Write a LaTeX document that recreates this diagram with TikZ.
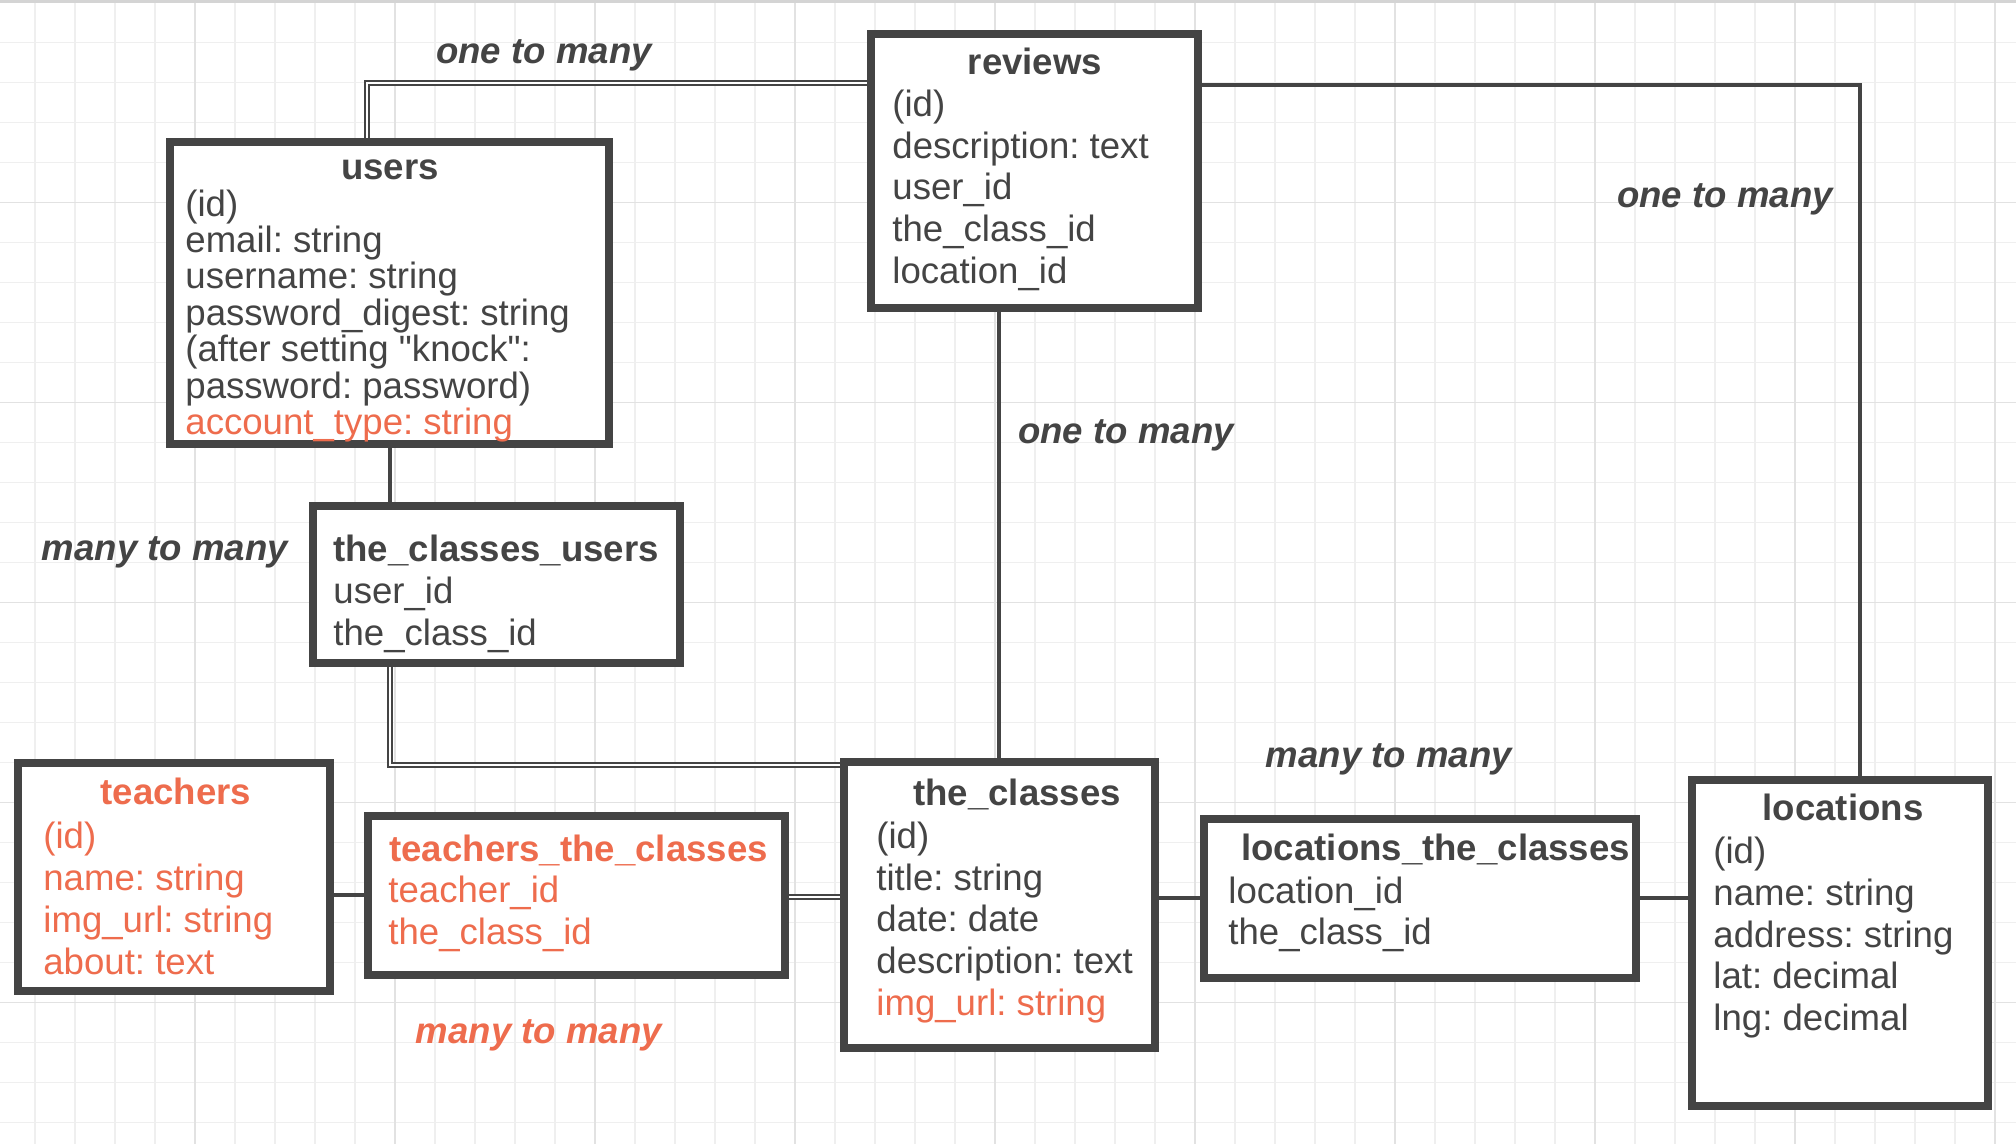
\documentclass[tikz,border=0pt]{standalone}
\usepackage{fontspec}
\setmainfont{Liberation Sans}[Ligatures=TeXOff]
\frenchspacing
\definecolor{dk}{HTML}{444444}
\definecolor{orng}{HTML}{EE6C4D}
\definecolor{gminor}{HTML}{EFEFEF}
\definecolor{gmajor}{HTML}{E2E2E2}
\definecolor{gtop}{HTML}{D4D4D4}
\begin{document}
\begin{tikzpicture}[x=0.5pt,y=-0.5pt,
  tbl/.style={draw=dk, line width=4pt, fill=white, inner sep=0pt},
  txt/.style={inner sep=0pt, anchor=base west, text=dk, font=\fontsize{18.3}{22}\selectfont},
  otxt/.style={txt, text=orng},
  ttl/.style={inner sep=0pt, anchor=base, text=dk, font=\fontsize{18.3}{22}\selectfont\bfseries},
  lttl/.style={ttl, anchor=base west},
  lbl/.style={inner sep=0pt, text=dk, font=\fontsize{18.3}{22}\selectfont\bfseries\itshape},
  conn/.style={draw=dk, line width=1.6pt},
  connthick/.style={draw=dk, line width=2.2pt},
  dbl/.style={draw=dk, double=white, double distance=1pt, line width=0.8pt}
]
\useasboundingbox (0,0) rectangle (2016,1144);
\fill[white] (0,0) rectangle (2016,1144);
% grid
\foreach \gx in {0,...,49} {\draw[gminor, line width=0.75pt] (35+40*\gx,0) -- (35+40*\gx,1144);}
\foreach \gy in {0,...,28} {\draw[gminor, line width=0.75pt] (0,2.7+40*\gy) -- (2016,2.7+40*\gy);}
\foreach \gx in {0,...,9} {\draw[gmajor, line width=0.75pt] (195+200*\gx,0) -- (195+200*\gx,1144);}
\foreach \gy in {1,...,5} {\draw[gmajor, line width=0.75pt] (0,2.7+200*\gy) -- (2016,2.7+200*\gy);}
\draw[gtop, line width=1.5pt] (0,1.5) -- (2016,1.5);

% tables
\node[tbl, minimum width=219.5pt, minimum height=151pt] (users) at (389.5,293) {};
\node[tbl, minimum width=163.5pt, minimum height=137pt] (reviews) at (1034.5,171) {};
\node[tbl, minimum width=183.5pt, minimum height=78.5pt] (tcu) at (496.5,584.5) {};
\node[tbl, minimum width=156pt, minimum height=114pt] (teachers) at (174,877) {};
\node[tbl, minimum width=208.5pt, minimum height=79.5pt] (tc) at (576.5,895.5) {};
\node[tbl, minimum width=155.5pt, minimum height=143pt] (theclasses) at (999.5,905) {};
\node[tbl, minimum width=216pt, minimum height=79.5pt] (ltc) at (1420,898.5) {};
\node[tbl, minimum width=148pt, minimum height=163pt] (locations) at (1840,943) {};

% connectors
\draw[dbl] (367,0 |- users.north) |- (reviews.west |- 0,83);
\draw[conn] (reviews.east |- 0,85) -| (1860,0 |- locations.north);
\draw[conn] (999,0 |- reviews.south) -- (999,0 |- theclasses.north);
\draw[conn] (390,0 |- users.south) -- (390,0 |- tcu.north);
\draw[dbl] (390,0 |- tcu.south) |- (theclasses.west |- 0,765);
\draw[connthick] (teachers.east |- 0,895) -- (tc.west |- 0,895);
\draw[dbl] (tc.east |- 0,897) -- (theclasses.west |- 0,897);
\draw[connthick] (theclasses.east |- 0,898) -- (ltc.west |- 0,898);
\draw[connthick] (ltc.east |- 0,898) -- (locations.west |- 0,898);

% users
\node[ttl] (usersT) at (390,180) {users};
\node[txt] (u1) at (185,217) {(id)};
\node[txt] (u2) at (185,253) {email: string};
\node[txt] (u3) at (185,289) {username: string};
\node[txt] (u4) at (185,326) {password\_digest: string};
\node[txt] (u5) at (185,362) {(after setting "knock":};
\node[txt] (u6) at (185,398) {password: password)};
\node[otxt] (u7) at (185,434) {account\_type: string};

% reviews
\node[ttl] (reviewsT) at (1035,75) {reviews};
\node[txt] (r1) at (892,117) {(id)};
\node[txt] (r2) at (892,159) {description: text};
\node[txt] (r3) at (892,200) {user\_id};
\node[txt] (r4) at (892,242) {the\_class\_id};
\node[txt] (r5) at (892,284) {location\_id};

% the_classes_users
\node[lttl] (tcuT) at (333,561) {the\_classes\_users};
\node[txt] (cu1) at (333,603) {user\_id};
\node[txt] (cu2) at (333,645) {the\_class\_id};

% teachers
\node[ttl, text=orng] (teachersT) at (176,804) {teachers};
\node[otxt] (t1) at (43,848) {(id)};
\node[otxt] (t2) at (43,890) {name: string};
\node[otxt] (t3) at (43,932) {img\_url: string};
\node[otxt] (t4) at (43,974) {about: text};

% teachers_the_classes
\node[lttl, text=orng] (tcT) at (389,861) {teachers\_the\_classes};
\node[otxt] (tc1) at (388,902) {teacher\_id};
\node[otxt] (tc2) at (388,944) {the\_class\_id};

% the_classes
\node[ttl] (theclassesT) at (1017,805) {the\_classes};
\node[txt] (c1) at (876,848) {(id)};
\node[txt] (c2) at (876,890) {title: string};
\node[txt] (c3) at (876,931) {date: date};
\node[txt] (c4) at (876,973) {description: text};
\node[otxt] (c5) at (876,1015) {img\_url: string};

% locations_the_classes
\node[lttl] (ltcT) at (1241,860) {locations\_the\_classes};
\node[txt] (lc1) at (1228,903) {location\_id};
\node[txt] (lc2) at (1228,944) {the\_class\_id};

% locations
\node[ttl] (locationsT) at (1843,820) {locations};
\node[txt] (l1) at (1713,863) {(id)};
\node[txt] (l2) at (1713,905) {name: string};
\node[txt] (l3) at (1713,947) {address: string};
\node[txt] (l4) at (1713,988) {lat: decimal};
\node[txt] (l5) at (1713,1030) {lng: decimal};

% relation labels
\node[lbl] (lab1) at (544,55) {one to many};
\node[lbl] (lab2) at (1725,199) {one to many};
\node[lbl] (lab3) at (1126,435) {one to many};
\node[lbl] (lab4) at (165,552) {many to many};
\node[lbl, text=orng] (lab5) at (539,1035) {many to many};
\node[lbl] (lab6) at (1389,759) {many to many};
\end{tikzpicture}
\end{document}
